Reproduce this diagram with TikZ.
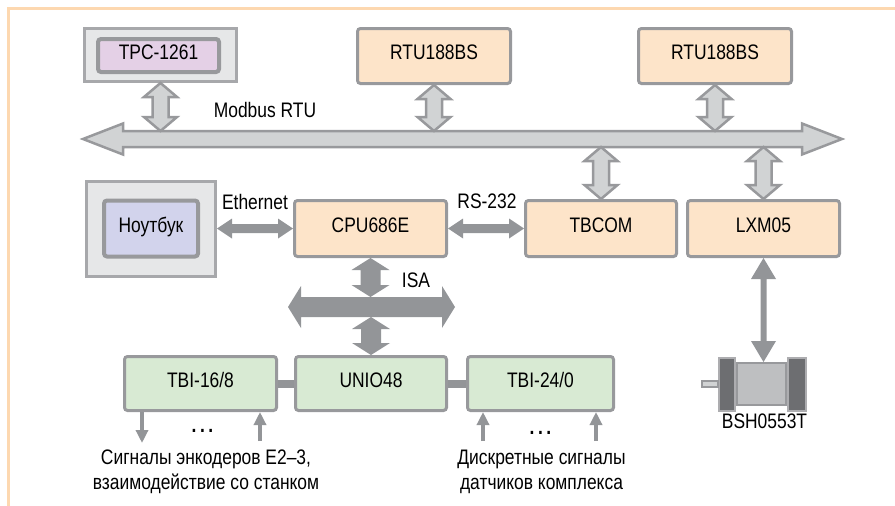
\documentclass[tikz,border=0pt]{standalone}
\usepackage{fontspec}
\setmainfont{Liberation Sans}[FakeStretch=0.83]
\usetikzlibrary{calc,arrows.meta}
\definecolor{frameorange}{RGB}{253,216,176}
\definecolor{edgegray}{RGB}{152,153,156}
\definecolor{panelgray}{RGB}{230,231,232}
\definecolor{busgray}{RGB}{209,211,212}
\definecolor{solidgray}{RGB}{147,149,152}
\definecolor{peach}{RGB}{253,228,201}
\definecolor{mint}{RGB}{216,234,211}
\definecolor{lilac}{RGB}{228,208,230}
\definecolor{periwinkle}{RGB}{210,211,236}
\definecolor{motordark}{RGB}{109,110,113}
\definecolor{motorbody}{RGB}{190,191,193}
\begin{document}
\begin{tikzpicture}[x=1pt, y=-1pt, font=\fontsize{21}{24.5}\selectfont,
  fatarrow/.style n args={3}{to path={
      -- ($(\tikztostart)!#3!(\tikztotarget)!#2!90:(\tikztotarget)$)
      -- ($(\tikztostart)!#3!(\tikztotarget)!#1!90:(\tikztotarget)$)
      -- ($(\tikztotarget)!#3!(\tikztostart)!#1!-90:(\tikztostart)$)
      -- ($(\tikztotarget)!#3!(\tikztostart)!#2!-90:(\tikztostart)$)
      -- (\tikztotarget)
      -- ($(\tikztotarget)!#3!(\tikztostart)!#2!90:(\tikztostart)$)
      -- ($(\tikztotarget)!#3!(\tikztostart)!#1!90:(\tikztostart)$)
      -- ($(\tikztostart)!#3!(\tikztotarget)!#1!-90:(\tikztotarget)$)
      -- ($(\tikztostart)!#3!(\tikztotarget)!#2!-90:(\tikztotarget)$)
      -- cycle}},
  busline/.style={draw=edgegray, fill=busgray, line width=2.5pt},
  modbus/.style={busline, fatarrow={8pt}{15.5pt}{40pt}},
  drop/.style={busline, fatarrow={8pt}{16.5pt}{14pt}},
  isabus/.style={fill=solidgray, fatarrow={10pt}{21pt}{13pt}},
  isadrop/.style={fill=solidgray, fatarrow={10pt}{19pt}{12pt}},
  link/.style={fill=solidgray, fatarrow={4.5pt}{10pt}{15pt}},
  motorlink/.style={fill=solidgray, fatarrow={3pt}{12.5pt}{21pt}},
  lbl/.style={inner sep=0pt, text height=1.38ex, text depth=0pt},
  box/.style={lbl, draw=edgegray, line width=3pt, rounded corners=3pt},
  ctrl/.style={box, fill=peach, minimum width=152pt, minimum height=56pt},
  io/.style={box, fill=mint, minimum height=54pt},
  panel/.style={draw=edgegray!85, fill=panelgray, line width=3pt},
  sig/.style={draw=solidgray, line width=3.5pt, -{Triangle[width=12pt,length=13pt]}}]
\useasboundingbox (0,0) rectangle (895,506);
\draw[frameorange, line width=3pt] (895,8) -- (8,8) -- (8,506);

\node[panel, minimum width=152pt, minimum height=53pt] (tpcpanel) at (160.5,55) {};
\node[box, fill=lilac, line width=4pt, minimum width=121pt, minimum height=33pt] (tpc) at (158.5,55.5) {TPC-1261};
\foreach \nm/\x in {rtuA/434, rtuB/715}{
\node[ctrl, minimum width=153pt, minimum height=55pt] (\nm) at (\x,56) {RTU188BS};
}
\node[panel, minimum width=129pt, minimum height=95pt] (notepanel) at (151,228.5) {};
\node[box, fill=periwinkle, line width=4pt, minimum width=94pt, minimum height=56pt] (note) at (151,228.5) {Ноутбук};
\node[ctrl] (cpu) at (370.5,228.5) {CPU686E};
\node[ctrl, minimum width=151pt] (tbcom) at (601,228.5) {TBCOM};
\node[ctrl] (lxm) at (763.5,228.5) {LXM05};
\node[io, minimum width=152pt] (tbiA) at (200.5,383.5) {TBI-16/8};
\node[io, minimum width=151pt] (unio) at (371,383.5) {UNIO48};
\node[io, minimum width=146pt] (tbiB) at (540.5,383.5) {TBI-24/0};

% Modbus RTU
\coordinate (mbL) at (83,139);
\coordinate (mbR) at (842,139);
\coordinate (mbtop) at (0,131);
\coordinate (mbbot) at (0,147);
\path[modbus] (mbL) to (mbR);
\foreach \n in {tpcpanel, rtuA, rtuB}
\path[drop] (\n.south) to (\n.south |- mbtop);
\foreach \n in {tbcom, lxm}
\path[drop] (\n.north |- mbbot) to (\n.north);
\node[lbl] (modbuslbl) at (265,114) {Modbus RTU};

% Ethernet, RS-232
\path[link] (notepanel.east) to (cpu.west);
\path[link] (cpu.east) to (tbcom.west);
\node[lbl] (ethlbl) at (255,205.5) {Ethernet};
\node[lbl] (rslbl) at (487,205) {RS-232};

% ISA
\coordinate (isaL) at (288,307);
\coordinate (isaR) at (455,307);
\coordinate (isatop) at (0,297);
\coordinate (isabot) at (0,317);
\path[isabus] (isaL) to (isaR);
\path[isadrop] (cpu.south) to (cpu.south |- isatop);
\path[isadrop] (unio.north |- isabot) to (unio.north);
\node[lbl] (isalbl) at (416,284) {ISA};

% I/O modules
\draw[solidgray, line width=8pt] (tbiA.east) -- (unio.west) (unio.east) -- (tbiB.west);
\coordinate (encout) at (142,443);
\draw[sig] (tbiA.south -| encout) -- (encout);
\foreach \nm/\x in {tbiA/260, tbiB/483, tbiB/596}{
\coordinate (sigin) at (\x,441);
\draw[sig] (sigin) -- (\nm.south -| sigin);
}
\node[anchor=base, inner sep=0pt] (dotsA) at (202.5,432) {\textbf{.\,.\,.}};
\node[anchor=base, inner sep=0pt] (dotsB) at (540.5,434) {\textbf{.\,.\,.}};
\node[align=center, anchor=north, inner sep=0pt] (encnote) at (206,450) {Сигналы энкодеров Е2–3,\\взаимодействие со станком};
\node[align=center, anchor=north, inner sep=0pt] (sensnote) at (541.5,450) {Дискретные сигналы\\датчиков комплекса};

% servo motor
\node[draw=edgegray, fill=motorbody, line width=2pt, minimum width=49pt, minimum height=42pt] (motor) at (761.5,384) {};
\draw[draw=edgegray!80, fill=motordark, line width=2pt] (719,358) rectangle (735,411) (788,358) rectangle (806,411);
\draw[draw=edgegray, fill=busgray, line width=2pt] (702,381) rectangle (718,387);
\path[motorlink] (lxm.south) to (lxm.south |- motor.north);
\node[lbl] (motorlbl) at (764.5,424.5) {BSH0553T};
\end{tikzpicture}
\end{document}
